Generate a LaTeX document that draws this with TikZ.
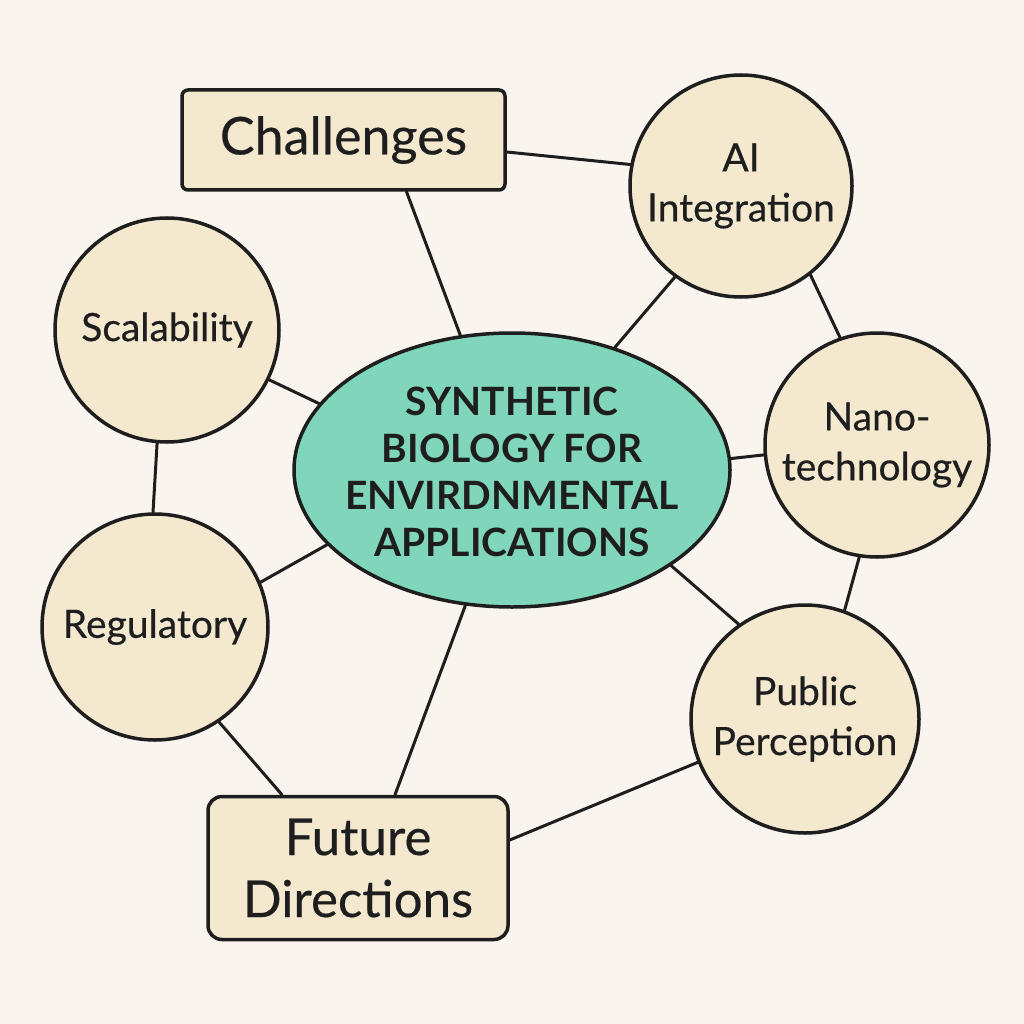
\documentclass[tikz,border=0pt]{standalone}
\usepackage{fontspec}
\setmainfont{Lato}[FakeBold=0.4]
\newfontfamily\hubfont{Lato}
\usetikzlibrary{shapes.geometric}
\definecolor{bg}{HTML}{FAF4EE}
\definecolor{cream}{HTML}{F4E9CF}
\definecolor{teal}{HTML}{80D6BB}
\definecolor{ink}{HTML}{1E1E1E}
\tikzset{
  topic/.style={circle, draw=ink, line width=3.5pt, fill=cream, minimum size=#1, inner sep=0pt, align=center, text=ink, font=\fontsize{39}{50}\selectfont},
  tbox/.style={rectangle, draw=ink, line width=3.5pt, fill=cream, align=center, text=ink, inner sep=0pt},
  link/.style={draw=ink, line width=3pt, line cap=round}
}
\begin{document}
\begin{tikzpicture}[x=1pt,y=-1pt]
\fill[bg] (0,0) rectangle (1024,1024);
\useasboundingbox (0,0) rectangle (1024,1024);
% nodes
\node[tbox, rounded corners=6pt, minimum width=323pt, minimum height=100pt, font=\fontsize{52}{60}\selectfont] (chal) at (343.5,140) {Challenges};
\node[tbox, rounded corners=14pt, minimum width=300pt, minimum height=143pt, font=\fontsize{51}{62}\selectfont] (fut) at (358,868) {Future\\Directions};
\node[ellipse, draw=ink, line width=3.5pt, fill=teal, minimum width=436pt, minimum height=274pt, inner sep=0pt] (hub) at (512,470) {};
\node[align=center, text=ink, inner sep=0pt, font=\hubfont\bfseries\fontsize{39}{47}\selectfont] (hubtext) at ([yshift=-2pt]hub.center) {SYNTHETIC\\BIOLOGY FOR\\ENVIRDNMENTAL\\APPLICATIONS};
\node[topic=222pt] (ai) at (741,186) {AI\\Integration};
\node[topic=224pt] (scal) at (167,330) {Scalability};
\node[topic=224pt] (nano) at (877,445) {Nano-\\technology};
\node[topic=226pt] (reg) at (155,627) {Regulatory};
\node[topic=228pt] (pub) at (805,719) {Public\\Perception};
% connectors
\draw[link] ([yshift=-12pt]chal.east) -- (ai.169);
\draw[link] ([xshift=63pt]chal.south) -- (hub.111);
\draw[link] (ai.234) -- (hub.50);
\draw[link] (ai.308) -- (nano.109);
\draw[link] (scal.334) -- (hub.161);
\draw[link] (scal.265) -- (reg.91);
\draw[link] (nano.185) -- (hub.3);
\draw[link] (nano.261) -- (pub.70);
\draw[link] (hub.329) -- (pub.125);
\draw[link] (hub.202) -- (reg.23);
\draw[link] (hub.251) -- ([xshift=37pt]fut.north);
\draw[link] (reg.304) -- ([xshift=-76pt]fut.north);
\draw[link] (pub.202) -- ([yshift=28pt]fut.east);
\end{tikzpicture}
\end{document}
